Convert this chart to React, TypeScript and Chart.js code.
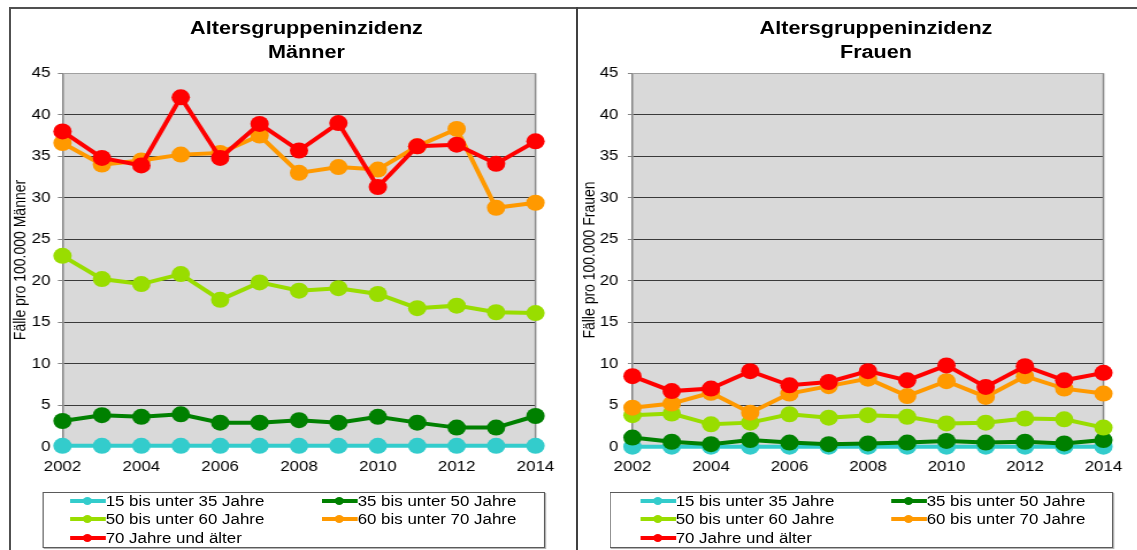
import React, { useEffect, useRef } from 'react';
import { Chart, registerables } from 'chart.js';

Chart.register(...registerables);

// ---------- data ----------
const years = ['2002', '2003', '2004', '2005', '2006', '2007', '2008', '2009', '2010', '2011', '2012', '2013', '2014'];
const xTickLabels = ['2002', '2004', '2006', '2008', '2010', '2012', '2014'];
const yTickValues = [0, 5, 10, 15, 20, 25, 30, 35, 40, 45];

const seriesNames = ['15 bis unter 35 Jahre', '35 bis unter 50 Jahre', '50 bis unter 60 Jahre', '60 bis unter 70 Jahre', '70 Jahre und älter'];
const seriesColors = ['#33CCCC', '#008000', '#99DD00', '#FF9900', '#FF0000'];

const maenner15bis35 = [0.1, 0.1, 0.1, 0.1, 0.1, 0.1, 0.1, 0.1, 0.1, 0.1, 0.1, 0.1, 0.1];
const maenner35bis50 = [3.1, 3.8, 3.6, 3.9, 2.9, 2.9, 3.2, 2.9, 3.6, 2.9, 2.3, 2.3, 3.7];
const maenner50bis60 = [23.0, 20.2, 19.6, 20.8, 17.7, 19.8, 18.8, 19.1, 18.4, 16.7, 17.0, 16.2, 16.1];
const maenner60bis70 = [36.6, 34.0, 34.5, 35.2, 35.4, 37.5, 33.0, 33.7, 33.4, 36.2, 38.3, 28.8, 29.4];
const maenner70plus = [38.0, 34.8, 33.9, 42.1, 34.8, 38.9, 35.7, 39.0, 31.3, 36.2, 36.4, 34.1, 36.8];

const frauen15bis35 = [0, 0, 0, 0, 0, 0, 0, 0, 0, 0, 0, 0, 0];
const frauen35bis50 = [1.1, 0.6, 0.3, 0.8, 0.5, 0.3, 0.4, 0.5, 0.7, 0.5, 0.6, 0.4, 0.8];
const frauen50bis60 = [3.8, 4.0, 2.7, 2.9, 3.9, 3.5, 3.8, 3.6, 2.8, 2.9, 3.4, 3.3, 2.3];
const frauen60bis70 = [4.7, 5.2, 6.5, 4.1, 6.4, 7.3, 8.2, 6.1, 7.9, 6.0, 8.5, 7.0, 6.4];
const frauen70plus = [8.5, 6.7, 7.0, 9.1, 7.4, 7.8, 9.1, 8.0, 9.8, 7.2, 9.7, 8.0, 8.9];

// ---------- layout ----------
const FONT = "'Liberation Sans', Arial, Helvetica, sans-serif";
const S = 1.15; // horizontal stretch of the reference picture
const CANVAS_TOP = 9;
const CANVAS_H = 541;
const PLOT_TOP = 73.3;
const PLOT_BOTTOM = 446.7;
const X_AXIS_H = 30;
const TICK_LEN = 4;

const LEFT_GEO = {
  canvasX: 11, canvasX2: 576, plotX1: 62, plotX2: 535, yTitleX: 20, yLabelRight: 50,
  titleCX: 306.5, legendX1: 42, legendX2: 545, col1: 70, col2: 322,
};
const RIGHT_GEO = {
  canvasX: 578, canvasX2: 1137, plotX1: 632, plotX2: 1103, yTitleX: 589.5, yLabelRight: 618,
  titleCX: 876, legendX1: 610, legendX2: 1113, col1: 640, col2: 891,
};

const plotFrame = {
  id: 'plotFrame',
  beforeDraw(chart: any) {
    const { ctx, chartArea: a } = chart;
    ctx.save();
    ctx.fillStyle = '#D9D9D9';
    ctx.fillRect(a.left, a.top, a.right - a.left, a.bottom - a.top);
    ctx.restore();
  },
  beforeDatasetsDraw(chart: any) {
    const { ctx, chartArea: a } = chart;
    ctx.save();
    ctx.strokeStyle = '#8a8a8a';
    ctx.lineWidth = 1.5;
    ctx.beginPath();
    ctx.moveTo(a.right, a.top);
    ctx.lineTo(a.right, a.bottom);
    ctx.stroke();
    ctx.restore();
  },
};

function Panel({ g, title, sub, yTitle, series }: any) {
  const ref = useRef<HTMLCanvasElement>(null);
  const cw = Math.round((g.canvasX2 - g.canvasX) / S);

  useEffect(() => {
    const yAxisW = (g.plotX1 - g.canvasX) / S;
    const padRight = cw - (g.plotX2 - g.canvasX) / S;
    const yTitlePad = Math.max(0, (g.yTitleX - g.canvasX) / S - (14 * 1.2) / 2);
    const tickPad = Math.max(0, (g.plotX1 - g.yLabelRight) / S - TICK_LEN);
    const chart = new Chart(ref.current as HTMLCanvasElement, {
      type: 'line',
      data: {
        labels: years,
        datasets: series.map((d: number[], i: number) => ({
          label: seriesNames[i],
          data: d,
          borderColor: seriesColors[i],
          backgroundColor: seriesColors[i],
          pointBackgroundColor: seriesColors[i],
          pointBorderColor: seriesColors[i],
          pointBorderWidth: 0,
          pointRadius: 8,
          pointHoverRadius: 8,
          borderWidth: 4,
          tension: 0,
          fill: false,
          order: 4 - i,
          clip: false,
        })),
      },
      options: {
        responsive: false,
        maintainAspectRatio: false,
        animation: false,
        devicePixelRatio: 1,
        events: [],
        layout: {
          padding: {
            left: 0,
            top: PLOT_TOP - CANVAS_TOP,
            right: padRight,
            bottom: CANVAS_H - (PLOT_BOTTOM - CANVAS_TOP) - X_AXIS_H,
          },
        },
        plugins: {
          legend: { display: false },
          tooltip: { enabled: false },
          title: { display: false },
        },
        scales: {
          x: {
            type: 'category',
            offset: false,
            grid: { display: false, drawTicks: false },
            border: { display: false },
            ticks: {
              autoSkip: false,
              maxRotation: 0,
              minRotation: 0,
              padding: 11,
              color: '#000',
              font: { family: FONT, size: 14.7 },
              callback: (_v: any, i: number) => (xTickLabels.includes(years[i]) ? years[i] : ''),
            },
            afterFit: (s: any) => {
              s.height = X_AXIS_H;
              s.paddingLeft = 0;
              s.paddingRight = 0;
            },
          },
          y: {
            min: 0,
            max: 45,
            afterBuildTicks: (s: any) => {
              s.ticks = yTickValues.map((v) => ({ value: v }));
            },
            ticks: {
              padding: tickPad,
              color: '#000',
              font: { family: FONT, size: 14.7 },
            },
            grid: {
              color: (c: any) => (c.tick && c.tick.value === 45 ? '#a0a0a0' : '#3a3a3a'),
              lineWidth: 1,
              tickLength: TICK_LEN,
              tickColor: '#868686',
            },
            border: { display: true, color: '#868686', width: 1.5 },
            title: {
              display: true,
              text: yTitle,
              color: '#000',
              font: { family: FONT, size: 14 },
              padding: { top: yTitlePad, bottom: 0 },
            },
            afterFit: (s: any) => {
              s.width = yAxisW;
              s.paddingTop = 0;
              s.paddingBottom = 0;
            },
          },
        },
      },
      plugins: [plotFrame],
    } as any);
    return () => chart.destroy();
  }, []);

  const boxL = g.legendX1 / S;
  const boxW = (g.legendX2 - g.legendX1) / S;

  return (
    <>
      <div
        style={{
          position: 'absolute',
          left: g.titleCX / S - 200,
          top: 16,
          width: 400,
          textAlign: 'center',
          fontFamily: FONT,
          fontWeight: 'bold',
          fontSize: 18.8,
          lineHeight: '24px',
          color: '#000',
        }}
      >
        <div>{title}</div>
        <div>{sub}</div>
      </div>
      <canvas
        ref={ref}
        width={cw}
        height={CANVAS_H}
        style={{ position: 'absolute', left: g.canvasX / S, top: CANVAS_TOP, width: cw, height: CANVAS_H }}
      />
      <div
        style={{
          position: 'absolute',
          left: boxL,
          top: 492,
          width: boxW,
          height: 56,
          boxSizing: 'border-box',
          border: '1px solid #5a5a5a',
          boxShadow: '1px 1px 0 #b4b4b4',
          background: '#fff',
        }}
      >
        {seriesNames.map((name, i) => {
          const col = i % 2;
          const row = Math.floor(i / 2);
          const x = ((col === 0 ? g.col1 : g.col2) - g.legendX1) / S - 1;
          return (
            <div
              key={name}
              style={{
                position: 'absolute',
                left: x,
                top: row * 18.25 - 1,
                width: 220,
                height: 18,
                display: 'flex',
                alignItems: 'center',
                whiteSpace: 'nowrap',
                fontFamily: FONT,
                fontSize: 14.7,
                lineHeight: '18px',
                color: '#000',
              }}
            >
              <span
                style={{ position: 'relative', display: 'inline-block', width: 31, minWidth: 31, height: 18, flexShrink: 0 }}
              >
                <span
                  style={{ position: 'absolute', left: 0, top: 7, width: 31, height: 4, background: seriesColors[i] }}
                />
                <span
                  style={{
                    position: 'absolute',
                    left: 11.5,
                    top: 5,
                    width: 8,
                    height: 8,
                    borderRadius: '50%',
                    background: seriesColors[i],
                  }}
                />
              </span>
              <span style={{ flexShrink: 0 }}>{name}</span>
            </div>
          );
        })}
      </div>
    </>
  );
}

export default function App() {
  useEffect(() => {
    document.documentElement.style.overflow = 'hidden';
    document.body.style.margin = '0';
  }, []);

  return (
    <div style={{ position: 'relative', width: 1137, height: 550, overflow: 'hidden', background: '#fff' }}>
      <div style={{ position: 'absolute', left: 9, top: 7, width: 1128, height: 2, background: '#505050' }} />
      <div style={{ position: 'absolute', left: 9, top: 7, width: 1.5, height: 543, background: '#505050' }} />
      <div style={{ position: 'absolute', left: 576, top: 7, width: 2, height: 543, background: '#404040' }} />
      <div
        style={{
          position: 'absolute',
          left: 0,
          top: 0,
          width: 1137 / S,
          height: 550,
          transform: `scaleX(${S})`,
          transformOrigin: '0 0',
        }}
      >
        <Panel
          g={LEFT_GEO}
          title="Altersgruppeninzidenz"
          sub="Männer"
          yTitle="Fälle pro 100.000 Männer"
          series={[maenner15bis35, maenner35bis50, maenner50bis60, maenner60bis70, maenner70plus]}
        />
        <Panel
          g={RIGHT_GEO}
          title="Altersgruppeninzidenz"
          sub="Frauen"
          yTitle="Fälle pro 100.000 Frauen"
          series={[frauen15bis35, frauen35bis50, frauen50bis60, frauen60bis70, frauen70plus]}
        />
      </div>
    </div>
  );
}
